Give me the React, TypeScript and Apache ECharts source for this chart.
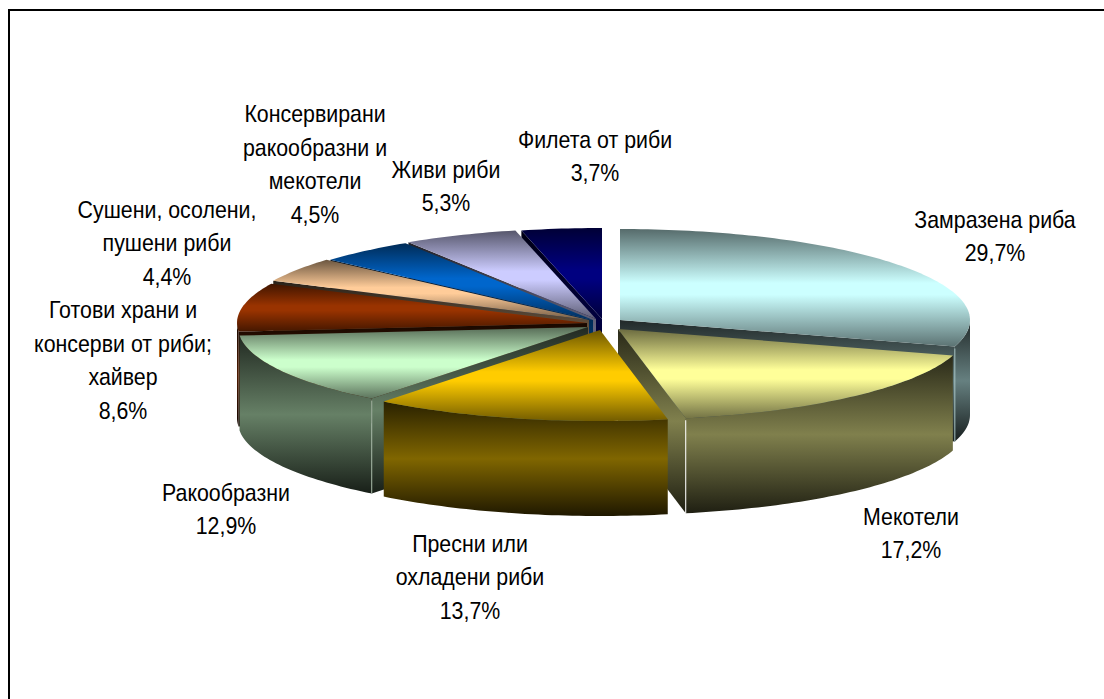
import React, { useEffect, useRef } from "react";
import * as echarts from "echarts";

const categories = [
  "Замразена риба",
  "Мекотели",
  "Пресни или\nохладени риби",
  "Ракообразни",
  "Готови храни и\nконсерви от риби;\nхайвер",
  "Сушени, осолени,\nпушени риби",
  "Консервирани\nракообразни и\nмекотели",
  "Живи риби",
  "Филета от риби",
];
const shares = [29.7, 17.2, 13.7, 12.9, 8.6, 4.4, 4.5, 5.3, 3.7];
const shareLabels = ["29,7%", "17,2%", "13,7%", "12,9%", "8,6%", "4,4%", "4,5%", "5,3%", "3,7%"];

// styling
const colors = ["#CCFFFF", "#FFFF99", "#FFCC00", "#CCFFCC", "#993300", "#FFCC99", "#0066CC", "#CCCCFF", "#000080"];
const cornerStrokes = ["#9fbcbc", "#ffffff", "none", "#a3b5a3", "none", "none", "none", "none", "none"];
// exploded slice apex on the page
const apexX = [620, 618, 600, 588, 587, 589, 593, 596, 602];
const apexY = [320, 329, 330, 327, 323, 320, 320, 319, 319];
const drawOrder = [5, 7, 8, 6, 4, 3, 2, 1, 0];
const labelX = [995, 911, 470, 226, 123, 167, 315, 446, 595];
const labelY = [236, 533, 577, 509, 360, 243, 164, 186, 156];

const RX = 350;
const RY = 91;
const DEPTH = 95;

function shade(hex: string, k: number) {
  const n = parseInt(hex.slice(1), 16);
  const c = [(n >> 16) & 255, (n >> 8) & 255, n & 255].map((v) => Math.round(v * k));
  return `rgb(${c[0]},${c[1]},${c[2]})`;
}
function vGrad(stops: [number, string][]) {
  return {
    type: "linear",
    x: 0,
    y: 0,
    x2: 0,
    y2: 1,
    colorStops: stops.map(([offset, color]) => ({ offset, color })),
  };
}
const total = shares.reduce((a, b) => a + b, 0);

function renderSlice(params: any, api: any) {
  const i = params.dataIndex;
  const before = shares.slice(0, i).reduce((a, b) => a + b, 0);
  const a0 = (before / total) * Math.PI * 2;
  const a1 = ((before + (api.value(0) as number)) / total) * Math.PI * 2;
  const cx = apexX[i];
  const cy = apexY[i];
  const col = colors[i];
  const pt = (a: number, dy = 0): [number, number] => [cx + RX * Math.sin(a), cy - RY * Math.cos(a) + dy];
  const arc = (from: number, to: number, dy = 0) => {
    const steps = Math.max(2, Math.ceil(Math.abs(to - from) / 0.02));
    const out: [number, number][] = [];
    for (let s = 0; s <= steps; s++) out.push(pt(from + ((to - from) * s) / steps, dy));
    return out;
  };
  const base = drawOrder[i] * 10;
  const wallFill = vGrad([
    [0, shade(col, 0.16)],
    [0.5, shade(col, 0.5)],
    [1, shade(col, 0.12)],
  ]);
  const topFill = vGrad([
    [0, shade(col, 0.42)],
    [0.46, shade(col, 1)],
    [0.56, shade(col, 1)],
    [1, shade(col, 0.45)],
  ]);
  const children: any[] = [];
  const poly = (points: number[][], fill: any, z: number) =>
    children.push({ type: "polygon", z2: base + z, silent: true, shape: { points }, style: { fill, stroke: "none" } });

  // cut faces
  const faceAt = (a: number) => {
    const p = pt(a);
    poly([[cx, cy], p, [p[0], p[1] + DEPTH], [cx, cy + DEPTH]], wallFill, 1);
  };
  if (Math.sin(a0) < -1e-6) faceAt(a0);
  if (Math.sin(a1) > 1e-6) faceAt(a1);

  // outer wall on the front half
  const w0 = Math.max(a0, Math.PI / 2);
  const w1 = Math.min(a1, Math.PI * 1.5);
  if (w1 > w0) {
    poly([...arc(w0, w1), ...arc(w1, w0, DEPTH)], wallFill, 2);
    // light corner where cut face meets the wall
    if (cornerStrokes[i] !== "none") {
      const corner = Math.sin(a1) > 0 ? a1 : a0;
      const p = pt(corner);
      children.push({
        type: "line",
        z2: base + 3,
        silent: true,
        shape: { x1: p[0], y1: p[1] + 2, x2: p[0], y2: p[1] + DEPTH },
        style: { stroke: cornerStrokes[i], lineWidth: 1 },
      });
    }
  }
  // top face
  poly([[cx, cy], ...arc(a0, a1)], topFill, 4);
  return { type: "group", children };
}

function renderLabel(params: any, api: any) {
  const i = params.dataIndex;
  return {
    type: "text",
    z2: 200,
    silent: true,
    x: labelX[i],
    y: labelY[i],
    scaleX: 0.89,
    style: {
      text: `${categories[i]}\n${shareLabels[i]}`,
      fill: "#000",
      font: '24px "Liberation Sans", Arial, sans-serif',
      lineHeight: 33.5,
      align: "center",
      verticalAlign: "middle",
    },
  };
}

export default function App() {
  const ref = useRef<HTMLDivElement>(null);
  useEffect(() => {
    document.body.style.margin = "0";
    const chart = echarts.init(ref.current!, undefined, { renderer: "svg" });
    chart.setOption({
      animation: false,
      backgroundColor: "#fff",
      graphic: [
        {
          type: "polyline",
          z: 0,
          silent: true,
          shape: { points: [[9, 699], [9, 10], [1104, 10]] },
          style: { fill: "none", stroke: "#000", lineWidth: 2 },
        },
      ],
      series: [
        { type: "custom", coordinateSystem: "none", silent: true, data: shares.map((v) => [v]), renderItem: renderSlice, z: 2 },
        { type: "custom", coordinateSystem: "none", silent: true, data: shares.map((v) => [v]), renderItem: renderLabel, z: 3 },
      ],
    });
    return () => chart.dispose();
  }, []);
  return <div ref={ref} style={{ width: 1104, height: 699 }} />;
}
